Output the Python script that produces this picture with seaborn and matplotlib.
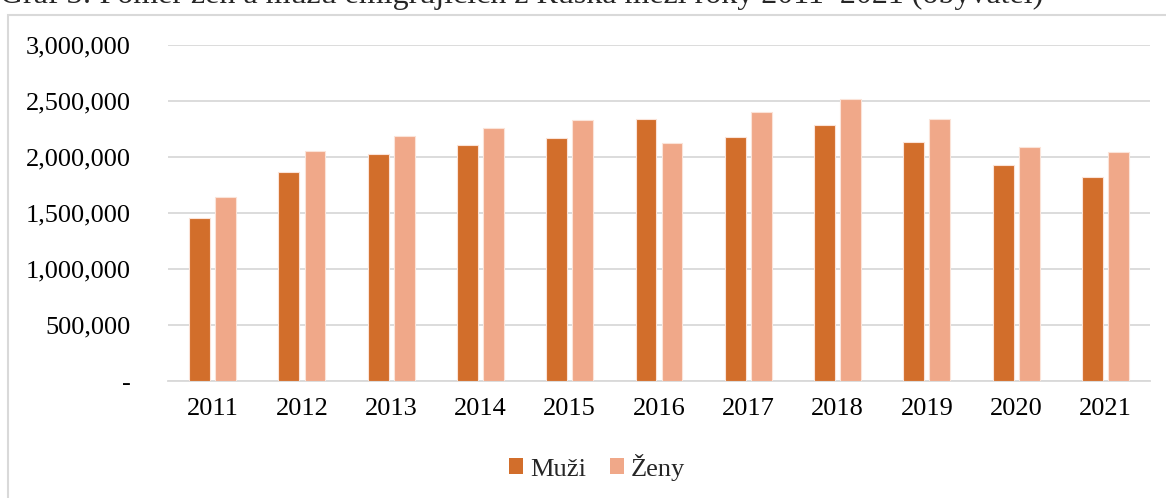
import pandas as pd
import matplotlib.pyplot as plt
import matplotlib.ticker as mticker
from matplotlib.patches import Rectangle, Patch
import seaborn as sns

# data
years = ["2011", "2012", "2013", "2014", "2015", "2016",
         "2017", "2018", "2019", "2020", "2021"]
muzi = [1458000, 1863000, 2030000, 2107000, 2172000, 2339000,
        2179000, 2283000, 2137000, 1931000, 1819000]
zeny = [1646000, 2054000, 2188000, 2262000, 2330000, 2122000,
        2405000, 2518000, 2342000, 2092000, 2042000]
series = ["Muži", "Ženy"]
colors = ["#D26E2B", "#F0A889"]
title = "Graf 3: Poměr žen a mužů emigrujících z Ruska mezi roky 2011–2021 (obyvatel)"

df = pd.DataFrame({
    "rok": years * 2,
    "pohlavi": [series[0]] * len(years) + [series[1]] * len(years),
    "pocet": muzi + zeny,
})

sns.set_theme(style="white")
plt.rcParams["font.family"] = ["Liberation Serif", "DejaVu Serif"]

fig = plt.figure(figsize=(11.66, 4.98), dpi=100)
ax = fig.add_axes([0.1441, 0.2349, 0.8422, 0.6747])

sns.barplot(data=df, x="rok", y="pocet", hue="pohlavi", palette=colors,
            saturation=1, width=0.584, gap=0.2, edgecolor="#FBE3D8",
            linewidth=0.8, legend=False, ax=ax, zorder=3)

ax.set_xlim(-0.5, len(years) - 0.5)
ax.set_ylim(0, 3000000)
ax.set_yticks(range(0, 3000001, 500000))
ax.yaxis.set_major_formatter(mticker.FuncFormatter(
    lambda v, p: "-" if v == 0 else f"{int(v):,}"))
ax.grid(axis="y", color="#D9D9D9", linewidth=1.3, zorder=0)
ax.set_axisbelow(True)
for s in ["top", "right", "left"]:
    ax.spines[s].set_visible(False)
ax.spines["bottom"].set_color("#D9D9D9")
ax.spines["bottom"].set_linewidth(1.3)
ax.set_xlabel("")
ax.set_ylabel("")
ax.tick_params(axis="y", length=0, pad=27, labelsize=19, labelcolor="black")
ax.tick_params(axis="x", length=0, pad=12, labelsize=19, labelcolor="black")

handles = [Patch(facecolor=c, edgecolor="none") for c in colors]
fig.legend(handles, series, loc="center", bbox_to_anchor=(0.512, 0.062),
           ncol=2, frameon=False, fontsize=19, handlelength=0.55,
           handleheight=0.55, handletextpad=0.25, columnspacing=0.9)

# chart border (cut by the image edges) and the clipped caption above it
fig.patches.append(Rectangle((8 / 1166, -0.1), 1.2, 1 - 15 / 498 + 0.1,
                             transform=fig.transFigure, fill=False,
                             edgecolor="#D9D9D9", linewidth=1.5))
fig.text(0.0, 1 - 3 / 498, title, ha="left", va="baseline", fontsize=23)

fig.savefig("out.png", dpi=100)
